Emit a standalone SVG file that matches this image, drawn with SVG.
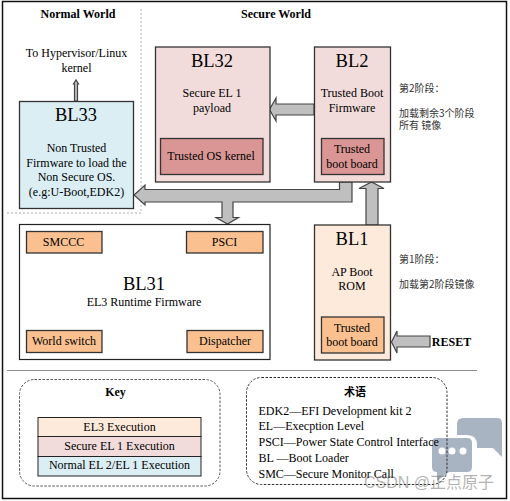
<svg xmlns="http://www.w3.org/2000/svg" width="510" height="501" viewBox="0 0 510 501">
<style>
text{font-family:"Liberation Serif","Noto Sans CJK SC",serif;fill:#000;text-anchor:middle;font-size:12px}
.b{stroke:#333;stroke-width:1.3}
.t{font-size:18.5px}
.h{font-weight:bold;font-size:12px}
.cn{font-family:"Noto Sans CJK SC",sans-serif;font-size:10px;text-anchor:start;fill:#333}
.term{text-anchor:start;font-size:12px}
.ar{fill:#bfbfbf;stroke:#444;stroke-width:1.2}
.pink{fill:#f2dcdb}.blue{fill:#dbeef4}.peach{fill:#fdeada}.red{fill:#d99694}.org{fill:#fac090}
</style>
<rect x="2.500" y="1.500" width="504" height="497" fill="#fff" stroke="#111" stroke-width="1.500"/>
<g id="zones" fill="none" stroke="#c8c8c8" stroke-width="1.300" stroke-dasharray="2 2">
<path d="M141 9V213H5"/>
</g>
<path d="M7 370.500H477" stroke="#8c8c8c" stroke-width="1" fill="none"/>
<text class="h" x="78" y="18">Normal World</text>
<text class="h" x="276" y="18">Secure World</text>
<text x="76.500" y="57">To Hypervisor/Linux</text>
<text x="76.500" y="72">kernel</text>
<g id="connectors">
<path class="ar" d="M74.500 101V84H73.500L76 80L78.500 84H77.500V101Z"/>
<path class="ar" d="M339.500 182V189.500H145V185L134 195L145 205V202H222V217.500H216L227.500 224L238.500 217.500H233V202H352V182Z"/>
<path class="ar" d="M314 104H276V98L269.500 109.500L276 121V115H314Z"/>
<path class="ar" d="M366 225V188.500H359L371.500 182L384 188.500H378V225Z"/>
<path class="ar" d="M430 336H397V331L391.500 342L397 353V347H430Z"/>
</g>
<g id="BL33"><rect class="b blue" x="19.500" y="101.500" width="114" height="107"/>
<text class="t" x="76" y="121">BL33</text>
<text x="76.500" y="152">Non Trusted</text><text x="76.500" y="167">Firmware to load the</text><text x="76.500" y="181">Non Secure OS.</text><text x="76.500" y="196">(e.g:U-Boot,EDK2)</text></g>
<g id="BL32"><rect class="b pink" x="155.500" y="47" width="114.500" height="135"/>
<text class="t" x="212" y="67">BL32</text>
<text x="212" y="97">Secure EL 1</text><text x="212" y="112">payload</text>
<rect class="b red" x="160.500" y="138.500" width="102.500" height="36"/>
<text x="211" y="160">Trusted OS kernel</text></g>
<g id="BL2"><rect class="b pink" x="314.500" y="47" width="76" height="135"/>
<text class="t" x="352" y="67">BL2</text>
<text x="352" y="97">Trusted Boot</text><text x="352" y="112">Firmware</text>
<rect class="b red" x="321.500" y="138.500" width="62.500" height="36"/>
<text x="352" y="153">Trusted</text><text x="352" y="168">boot board</text></g>
<g id="BL1"><rect class="b peach" x="314.500" y="225" width="76" height="135"/>
<text class="t" x="352" y="245">BL1</text>
<text x="352" y="276">AP Boot</text><text x="352" y="290">ROM</text>
<rect class="b org" x="321.500" y="317" width="62.500" height="36"/>
<text x="352" y="332">Trusted</text><text x="352" y="346">boot board</text></g>
<g id="BL31"><rect x="19.500" y="224.500" width="250.500" height="135" fill="#fff" stroke="#222" stroke-width="1.200"/>
<text class="t" x="144" y="290">BL31</text>
<text x="144" y="306">EL3 Runtime Firmware</text>
<rect class="b org" x="26.500" y="231.500" width="75.500" height="21.500"/><text x="63.500" y="246">SMCCC</text>
<rect class="b org" x="186.500" y="231.500" width="76.500" height="21.500"/><text x="224.500" y="246">PSCI</text>
<rect class="b org" x="26.500" y="330.500" width="75.500" height="22"/><text x="64" y="345">World switch</text>
<rect class="b org" x="187" y="330.500" width="76" height="22"/><text x="225" y="345">Dispatcher</text></g>
<text class="h" x="451.500" y="346">RESET</text>
<g id="notes"><text class="cn" x="399" y="92">第2阶段：</text><text class="cn" x="399" y="117">加载剩余3个阶段</text><text class="cn" x="399" y="129">所有 镜像</text>
<text class="cn" x="399" y="263">第1阶段：</text><text class="cn" x="399" y="288">加载第2阶段镜像</text></g>
<g id="key"><rect x="19.500" y="379.500" width="200.500" height="106.500" rx="15" fill="none" stroke="#555" stroke-dasharray="2.500 1.500"/>
<text class="h" x="115.500" y="396">Key</text>
<rect class="peach" x="38" y="417.500" width="163" height="19" stroke="#222"/><text x="119.500" y="431">EL3 Execution</text>
<rect class="pink" x="38" y="436.500" width="163" height="20" stroke="#222"/><text x="119.500" y="450">Secure EL 1 Execution</text>
<rect class="blue" x="38" y="456.500" width="163" height="19.500" stroke="#222"/><text x="119.500" y="469">Normal EL 2/EL 1 Execution</text></g>
<g id="watermark-icon">
<path d="M463 418H497Q502 418 502 423V457L493 448H477V445Q477 435 467 435H457V424Q457 418 463 418Z" fill="#a9b4c2"/>
<path d="M437 438H467Q472 438 472 443V467Q472 472 467 472H449L437 481V472Q432 472 432 467V443Q432 438 437 438Z" fill="#a9b4c2"/>
<circle cx="442" cy="451" r="3.500" fill="#fff"/><circle cx="452" cy="451" r="3.500" fill="#fff"/><circle cx="463" cy="451" r="3.500" fill="#fff"/>
</g>
<g id="terms"><rect x="246.500" y="377.500" width="200.500" height="107" rx="15" fill="none" stroke="#333" stroke-dasharray="2.500 1.500"/>
<text class="h" x="355" y="396" style="font-family:'Noto Sans CJK SC',sans-serif;font-size:11px">术语</text>
<text class="term" x="258.500" y="415">EDK2—EFI Development kit 2</text>
<text class="term" x="258.500" y="430">EL—Execption Level</text>
<text class="term" x="258.500" y="446">PSCI—Power State Control Interface</text>
<text class="term" x="258.500" y="462">BL —Boot Loader</text>
<text class="term" x="258.500" y="478">SMC—Secure Monitor Call</text></g>
<text x="364" y="488" style="font-family:'Liberation Sans','Noto Sans CJK SC',sans-serif;font-size:16px;text-anchor:start;fill:#666;fill-opacity:.5">CSDN @正点原子</text>
</svg>
